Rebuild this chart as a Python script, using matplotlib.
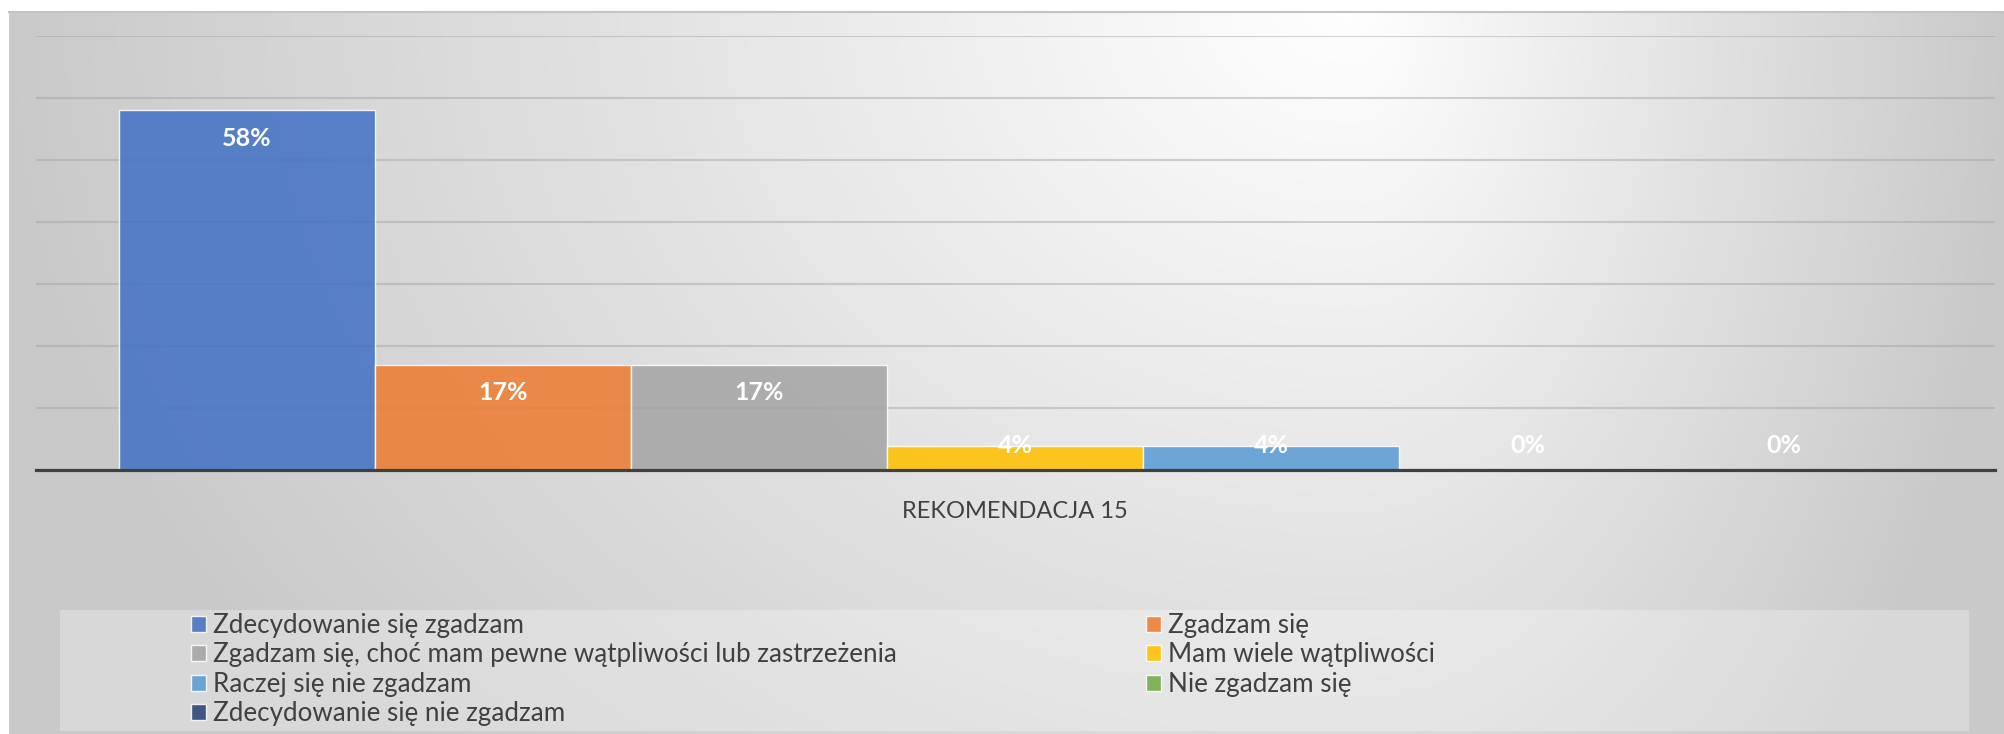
import numpy as np
import matplotlib.pyplot as plt
from matplotlib.patches import Rectangle

category = 'REKOMENDACJA 15'
series_names = [
    'Zdecydowanie się zgadzam',
    'Zgadzam się',
    'Zgadzam się, choć mam pewne wątpliwości lub zastrzeżenia',
    'Mam wiele wątpliwości',
    'Raczej się nie zgadzam',
    'Nie zgadzam się',
    'Zdecydowanie się nie zgadzam',
]
values = [58, 17, 17, 4, 4, 0, 0]
value_labels = ['58%', '17%', '17%', '4%', '4%', '0%', '0%']
colors = ['#4472C4', '#ED7D31', '#A5A5A5', '#FFC000', '#5B9BD5', '#70AD47', '#264478']

plt.rcParams['font.family'] = ['Lato', 'DejaVu Sans']

W, H = 2004, 734
fig = plt.figure(figsize=(W / 100, H / 100), dpi=100)

# chart area background (grey gradient, white near the top right)
bg = fig.add_axes([0, 0, 1, 1], zorder=-10)
bg.set_xlim(0, W)
bg.set_ylim(H, 0)
bg.axis('off')
xx, yy = np.meshgrid(np.arange(W), np.arange(H))
cx = 1350
dx = np.where(xx < cx, (cx - xx) / cx, (xx - cx) / (W - cx))
dy = yy / 1100
d = np.clip(np.hypot(dx, dy), 0, 1)
shade = 1 - 0.21 * d
img = np.dstack([shade] * 3)
img[:11, :] = 1
img[:, :9] = 1
bg.imshow(img, extent=(0, W, H, 0), aspect='auto', interpolation='bilinear')
bg.plot([9, W], [11.5, 11.5], color='#c4c4c4', lw=1.5)
bg.add_patch(Rectangle((60, 610), 1909, 121, facecolor='white', alpha=0.28, edgecolor='none'))

# plot area
ax = fig.add_axes([35.5 / W, 1 - 470.5 / H, (1995 - 35.5) / W, (470.5 - 36) / H])
ax.patch.set_alpha(0)
ax.set_ylim(0, 70)
gap = 0.325
ax.set_xlim(-0.5 - gap, len(values) - 0.5 + gap)

handles = []
for i, (name, v, c) in enumerate(zip(series_names, values, colors)):
    h = ax.bar(i, v, width=1, color=c, alpha=0.87, edgecolor=(1, 1, 1, 0.6),
               linewidth=1, label=name, zorder=2)
    handles.append(h)
    ax.text(i, max(v - 4.45, 4.0), value_labels[i], ha='center', va='center',
            color='white', fontweight='bold', fontsize=18, zorder=4)

ax.set_yticks(np.arange(0, 71, 10))
ax.yaxis.grid(True, color='#a0a0a0', alpha=0.45, lw=1.5)
ax.set_axisbelow(True)
ax.tick_params(axis='y', length=0, labelleft=False)
for s in ['top', 'left', 'right']:
    ax.spines[s].set_visible(False)
ax.spines['bottom'].set_color('#404040')
ax.spines['bottom'].set_linewidth(2.3)
ax.set_xticks([(len(values) - 1) / 2])
ax.set_xticklabels([category])
ax.tick_params(axis='x', length=0, pad=22, labelsize=17, labelcolor='#404040')

# legend, two columns filled row by row
leg_kw = dict(loc='upper left', frameon=False, fontsize=18.7, handlelength=0.58,
              handleheight=0.58, handletextpad=0.25, labelspacing=0.17,
              borderpad=0, borderaxespad=0, labelcolor='#404040')
fig.legend(handles=handles[0::2], bbox_to_anchor=(191 / W, 1 - 613 / H), **leg_kw)
fig.legend(handles=handles[1::2], bbox_to_anchor=(1146 / W, 1 - 613 / H), **leg_kw)

fig.savefig('out.png', dpi=100)
